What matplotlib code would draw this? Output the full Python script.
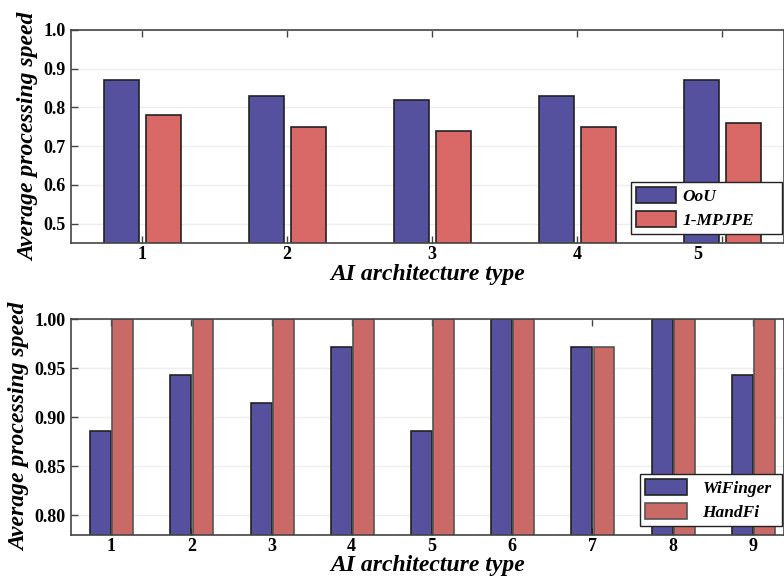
import numpy as np
import matplotlib
matplotlib.use("Agg")
import matplotlib.pyplot as plt
from matplotlib.transforms import ScaledTranslation

# top panel data
top_types = [1, 2, 3, 4, 5]
oou = [0.87, 0.83, 0.82, 0.83, 0.87]
mpjpe = [0.78, 0.75, 0.74, 0.75, 0.76]

# bottom panel data
bot_types = [1, 2, 3, 4, 5, 6, 7, 8, 9]
wifinger = [0.886, 0.943, 0.914, 0.971, 0.886, 1.0, 0.971, 1.0, 0.943]
handfi = [1.0, 1.0, 1.0, 1.0, 1.0, 1.0, 0.971, 1.0, 1.0]

BLUE = '#55519e'
RED_TOP = '#d96966'
RED_BOT = '#c96a66'
EDGE = '#222222'
SPINE = '#444444'

plt.rcParams['font.family'] = 'Liberation Serif'
plt.rcParams['font.weight'] = 'bold'

fig = plt.figure(figsize=(7.84, 5.79), dpi=100)
ax1 = fig.add_axes([71/784, 1-243/579, 713/784, 213/579])
ax2 = fig.add_axes([71/784, 1-535/579, 713/784, 216/579])


def style(ax):
    for s in ax.spines.values():
        s.set_color(SPINE)
        s.set_linewidth(1.2)
    ax.tick_params(axis='both', direction='in', labelsize=13, color=SPINE,
                   width=1.0, length=5)
    ax.tick_params(axis='x', top=True, bottom=True, pad=2)
    ax.tick_params(axis='y', pad=4)
    ax.yaxis.grid(True, color='#eeeeee', linewidth=1.0)
    ax.set_axisbelow(True)
    for lab in ax.get_xticklabels() + ax.get_yticklabels():
        lab.set_fontweight('bold')


# ── top panel ─────────────────────────────────────────
x = np.array(top_types)
ax1.bar(x - 0.141, oou, width=0.241, color=BLUE, edgecolor=EDGE,
        linewidth=1.2, label='OoU')
ax1.bar(x + 0.148, mpjpe, width=0.241, color=RED_TOP, edgecolor=EDGE,
        linewidth=1.2, label='1-MPJPE')
ax1.set_xlim(0.51, 5.43)
ax1.set_ylim(0.45, 1.0)
ax1.set_xticks(top_types)
ax1.set_yticks([0.5, 0.6, 0.7, 0.8, 0.9, 1.0])
ax1.set_yticklabels(['0.5', '0.6', '0.7', '0.8', '0.9', '1.0'])
style(ax1)
# label "5" sits a bit left of its tick in the original
lab5 = ax1.get_xticklabels()[4]
lab5.set_transform(lab5.get_transform() + ScaledTranslation(-0.24, 0, fig.dpi_scale_trans))
ax1.set_xlabel('AI architecture type', fontsize=17, fontstyle='italic',
               fontweight='bold', labelpad=1)
ax1.set_ylabel('Average processing speed', fontsize=17, fontstyle='italic',
               fontweight='bold', labelpad=3)
leg1 = ax1.legend(loc='lower left', bbox_to_anchor=(0.785, 0.042, 0.212, 0.2),
                  mode='expand', fancybox=False, edgecolor='#222222', framealpha=1,
                  prop={'size': 12.5, 'style': 'italic', 'weight': 'bold'},
                  handlelength=2.3, handleheight=1.0, borderaxespad=0,
                  labelspacing=0.35, borderpad=0.3, handletextpad=0.4)
leg1.get_frame().set_linewidth(1.0)

# ── bottom panel ──────────────────────────────────────
x = np.array(bot_types)
ax2.bar(x - 0.13, wifinger, width=0.26, color=BLUE, edgecolor=EDGE,
        linewidth=1.2, label='WiFinger')
ax2.bar(x + 0.145, handfi, width=0.26, color=RED_BOT, edgecolor='#555555',
        linewidth=1.2, label='HandFi')
ax2.set_xlim(0.5, 9.39)
ax2.set_ylim(0.78, 1.0)
ax2.set_xticks(bot_types)
ax2.set_yticks([0.80, 0.85, 0.90, 0.95, 1.00])
ax2.set_yticklabels(['0.80', '0.85', '0.90', '0.95', '1.00'])
style(ax2)
ax2.set_xlabel('AI architecture type', fontsize=17, fontstyle='italic',
               fontweight='bold', labelpad=0)
ax2.set_ylabel('Average processing speed', fontsize=17, fontstyle='italic',
               fontweight='bold', labelpad=3)
leg2 = ax2.legend(loc='lower left', bbox_to_anchor=(0.798, 0.042, 0.199, 0.2),
                  mode='expand', fancybox=False, edgecolor='#222222', framealpha=1,
                  prop={'size': 12.5, 'style': 'italic', 'weight': 'bold'},
                  handlelength=2.4, handleheight=1.0, borderaxespad=0,
                  labelspacing=0.35, borderpad=0.3, handletextpad=0.9)
leg2.get_frame().set_linewidth(1.0)

fig.savefig('out.png', dpi=100)
